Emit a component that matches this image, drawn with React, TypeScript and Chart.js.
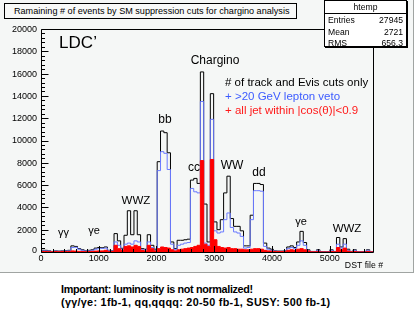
import React, { useEffect, useRef } from "react";
import { Chart, registerables } from "chart.js";

Chart.register(...registerables);

const X_RANGE = [0, 5750];

// # of track and Evis cuts only (black outline)
const trackEvisCounts = [
  150, 150, 100, 50, 100, 80, 100, 120, 150, 550,
  500, 300, 200, 100, 150, 200, 350, 400, 380, 450,
  150, 100, 1650, 1000, 330, 1500, 3700, 1550, 3700, 1550,
  300, 250, 1550, 600, 250, 8100, 10850, 10700, 8900, 900,
  300, 1050, 1050, 1100, 1150, 6450, 6600, 6150, 16150, 4300,
  900, 14200, 2700, 2000, 2900, 5300, 6800, 3000, 2300, 2300,
  1900, 550, 550, 3300, 6150, 6150, 6050, 800, 350, 250,
  100, 80, 80, 100, 450, 550, 400, 900, 1850, 850,
  200, 50, 50, 200, 30, 30, 30, 200, 50, 1300,
  450, 1200, 250, 50, 200, 30, 30, 30, 200, 30,
];

// + >20 GeV lepton veto (blue outline)
const leptonVetoCounts = [
  100, 100, 80, 40, 80, 60, 80, 90, 100, 400,
  420, 250, 150, 80, 100, 150, 250, 300, 320, 350,
  120, 80, 900, 600, 250, 700, 800, 700, 1000, 900,
  200, 200, 900, 400, 150, 7300, 9000, 8850, 7400, 700,
  200, 600, 700, 800, 850, 5700, 5400, 5300, 13500, 800,
  600, 11900, 1900, 1700, 1800, 2900, 3500, 2200, 1800, 1700,
  1400, 350, 400, 2900, 5500, 5500, 5450, 500, 250, 150,
  80, 60, 60, 80, 300, 400, 300, 600, 1000, 600,
  150, 40, 40, 150, 20, 20, 20, 150, 40, 700,
  350, 700, 150, 40, 150, 20, 20, 20, 150, 20,
];

// + all jet within |cos(theta)|<0.9 (red filled)
const jetCosCounts = [
  50, 50, 30, 20, 40, 30, 50, 40, 50, 100,
  80, 60, 50, 30, 50, 60, 80, 100, 100, 150,
  60, 50, 600, 300, 150, 500, 550, 450, 600, 500,
  150, 100, 600, 300, 100, 300, 450, 400, 350, 200,
  100, 200, 250, 300, 350, 400, 500, 600, 8200, 700,
  500, 8300, 1100, 500, 400, 350, 400, 300, 300, 250,
  250, 200, 200, 250, 300, 300, 250, 150, 100, 80,
  50, 40, 40, 50, 150, 200, 150, 250, 300, 200,
  100, 20, 20, 50, 10, 10, 10, 50, 20, 400,
  200, 350, 80, 20, 50, 10, 10, 10, 50, 10,
];

const yTickValues = [0, 2000, 4000, 6000, 8000, 10000, 12000, 14000, 16000, 18000, 20000];
const xTickValues = [0, 1000, 2000, 3000, 4000, 5000];

const annotations = [
  { text: "LDC\u2019", x: 641, y: 18700, color: "#000", size: 17 },
  { text: "\u03b3\u03b3", x: 390, y: 1700, color: "#000", size: 11 },
  { text: "\u03b3e", x: 918, y: 1900, color: "#000", size: 11 },
  { text: "WWZ", x: 1645, y: 4550, color: "#000", size: 11.5 },
  { text: "bb", x: 2148, y: 11900, color: "#000", size: 12 },
  { text: "cc", x: 2650, y: 7550, color: "#000", size: 12 },
  { text: "Chargino", x: 3014, y: 17200, color: "#000", size: 12 },
  { text: "WW", x: 3308, y: 7700, color: "#000", size: 12 },
  { text: "dd", x: 3776, y: 7150, color: "#000", size: 12 },
  { text: "\u03b3e", x: 4503, y: 2700, color: "#000", size: 11 },
  { text: "WWZ", x: 5300, y: 2050, color: "#000", size: 11.5 },
];

const legendLines = [
  { text: "# of track and Evis cuts only", x: 3187, y: 15150, color: "#000" },
  { text: "+ >20 GeV lepton veto", x: 3187, y: 13900, color: "#3d5cff" },
  { text: "+ all jet within |cos(\u03b8)|<0.9", x: 3187, y: 12650, color: "#ff1a1a" },
];

const FONT = '"Liberation Sans", Arial, Helvetica, sans-serif';

function stepPoints(counts: number[]) {
  const w = (X_RANGE[1] - X_RANGE[0]) / counts.length;
  const pts: { x: number; y: number }[] = [{ x: X_RANGE[0], y: 0 }];
  counts.forEach((c, i) => pts.push({ x: X_RANGE[0] + i * w, y: c }));
  pts.push({ x: X_RANGE[1], y: counts[counts.length - 1] });
  pts.push({ x: X_RANGE[1], y: 0 });
  return pts;
}

const rootFrame = {
  id: "rootFrame",
  afterDraw(chart: any) {
    const { ctx, chartArea, scales } = chart;
    const { left, top, right, bottom } = chartArea;
    const xs = scales.x;
    const ys = scales.y;
    ctx.save();
    ctx.strokeStyle = "#000";
    ctx.lineWidth = 1;
    const L = Math.round(left) + 0.5;
    const T = Math.round(top) + 0.5;
    const R = Math.round(right) + 0.5;
    const B = Math.round(bottom) + 0.5;
    ctx.beginPath();
    ctx.rect(L, T, R - L, B - T);
    ctx.stroke();

    // y ticks (inward)
    ctx.beginPath();
    for (let v = yTickValues[0]; v <= yTickValues[yTickValues.length - 1]; v += 400) {
      const py = Math.round(ys.getPixelForValue(v)) + 0.5;
      const len = v % 2000 === 0 ? 7 : 3.5;
      ctx.moveTo(L, py);
      ctx.lineTo(L + len, py);
    }
    // x ticks (inward)
    for (let v = X_RANGE[0]; v <= X_RANGE[1]; v += 200) {
      const px = Math.round(xs.getPixelForValue(v)) + 0.5;
      const len = v % 1000 === 0 ? 6.5 : 3.5;
      ctx.moveTo(px, B);
      ctx.lineTo(px, B - len);
    }
    ctx.stroke();

    ctx.fillStyle = "#000";
    ctx.font = `9px ${FONT}`;
    ctx.textAlign = "right";
    ctx.textBaseline = "middle";
    yTickValues.forEach((v) => {
      const py = ys.getPixelForValue(v);
      ctx.fillText(String(v), left - 4, v === 0 ? py - 1 : py + 0.5);
    });
    ctx.textAlign = "center";
    xTickValues.forEach((v) => {
      ctx.fillText(String(v), xs.getPixelForValue(v), bottom + 6.5);
    });
    ctx.font = `8.7px ${FONT}`;
    ctx.textAlign = "right";
    ctx.fillText("DST file #", right + 10, bottom + 14);

    annotations.forEach((a) => {
      ctx.font = `${a.size}px ${FONT}`;
      ctx.fillStyle = a.color;
      ctx.textAlign = "center";
      ctx.fillText(a.text, xs.getPixelForValue(a.x), ys.getPixelForValue(a.y));
    });
    ctx.font = `11.5px ${FONT}`;
    ctx.textAlign = "left";
    legendLines.forEach((l) => {
      ctx.fillStyle = l.color;
      ctx.fillText(l.text, xs.getPixelForValue(l.x), ys.getPixelForValue(l.y));
    });
    ctx.restore();
  },
};

export default function App() {
  const canvasRef = useRef<HTMLCanvasElement | null>(null);

  useEffect(() => {
    const canvas = canvasRef.current;
    if (!canvas) return;
    const chart = new Chart(canvas, {
      type: "line",
      data: {
        datasets: [
          {
            label: "all jet within |cos(\u03b8)|<0.9",
            data: stepPoints(jetCosCounts),
            stepped: true,
            borderColor: "#ff0000",
            backgroundColor: "#ff0000",
            borderWidth: 1,
            pointRadius: 0,
            fill: "origin",
            order: 0,
          },
          {
            label: ">20 GeV lepton veto",
            data: stepPoints(leptonVetoCounts),
            stepped: true,
            borderColor: "#6a7aff",
            borderWidth: 1,
            pointRadius: 0,
            fill: false,
            order: 1,
          },
          {
            label: "# of track and Evis cuts only",
            data: stepPoints(trackEvisCounts),
            stepped: true,
            borderColor: "#000000",
            borderWidth: 1,
            pointRadius: 0,
            fill: false,
            order: 2,
          },
        ],
      } as any,
      options: {
        animation: false,
        responsive: false,
        maintainAspectRatio: false,
        events: [],
        layout: { padding: { left: 41, top: 29, right: 42, bottom: 20 } },
        scales: {
          x: { type: "linear", min: X_RANGE[0], max: X_RANGE[1], display: false },
          y: { type: "linear", min: 0, max: 20000, display: false },
        },
        plugins: {
          legend: { display: false },
          tooltip: { enabled: false },
          title: { display: false },
        },
      } as any,
      plugins: [rootFrame],
    });
    return () => chart.destroy();
  }, []);

  return (
    <div
      style={{
        position: "absolute",
        left: 0,
        top: 0,
        width: 415,
        height: 312,
        background: "#ffffff",
        fontFamily: FONT,
        overflow: "hidden",
      }}
    >
      <div
        style={{
          position: "absolute",
          left: 0,
          top: 0,
          width: 413,
          height: 272,
          background: "#f5f7f6",
          borderRight: "1px solid #a0a4a2",
          borderBottom: "1px solid #a0a4a2",
        }}
      />
      <canvas
        ref={canvasRef}
        width={415}
        height={272}
        style={{ position: "absolute", left: 0, top: 0, width: 415, height: 272 }}
      />
      <div
        style={{
          position: "absolute",
          left: 4,
          top: 3,
          width: 282,
          height: 14,
          border: "1px solid #000",
          background: "#f8f9f8",
          fontSize: 9.1,
          lineHeight: "14px",
          paddingLeft: 9,
          boxSizing: "content-box",
          whiteSpace: "nowrap",
          color: "#000",
        }}
      >
        Ramaining # of events by SM suppression cuts for chargino analysis
      </div>
      <div
        style={{
          position: "absolute",
          left: 324,
          top: 0,
          width: 81,
          height: 45,
          border: "1px solid #000",
          boxShadow: "1px 1px 0 #000",
          background: "#ffffff",
          fontSize: 8.6,
          color: "#000",
        }}
      >
        <div style={{ position: "absolute", left: 0, top: 1, width: 81, textAlign: "center", lineHeight: "10px" }}>htemp</div>
        <div style={{ position: "absolute", left: 0, top: 12, width: 81, height: 0, borderTop: "1px solid #000" }} />
        {[
          ["Entries", "27945", 14],
          ["Mean", "2721", 25.5],
          ["RMS", "656.3", 36.5],
        ].map(([k, v, t]) => (
          <div key={k as string} style={{ position: "absolute", left: 3, top: t as number, width: 75, lineHeight: "10px" }}>
            <span>{k}</span>
            <span style={{ position: "absolute", right: 0 }}>{v}</span>
          </div>
        ))}
      </div>
      <div
        style={{
          position: "absolute",
          left: 61,
          top: 283,
          fontSize: 10.8,
          fontWeight: "bold",
          lineHeight: "13px",
          color: "#000",
          whiteSpace: "nowrap",
        }}
      >
        <div style={{ letterSpacing: "-0.35px" }}>Important: luminosity is not normalized!</div>
        <div style={{ letterSpacing: "0.3px" }}>(γγ/γe: 1fb-1, qq,qqqq: 20-50 fb-1, SUSY: 500 fb-1)</div>
      </div>
    </div>
  );
}
